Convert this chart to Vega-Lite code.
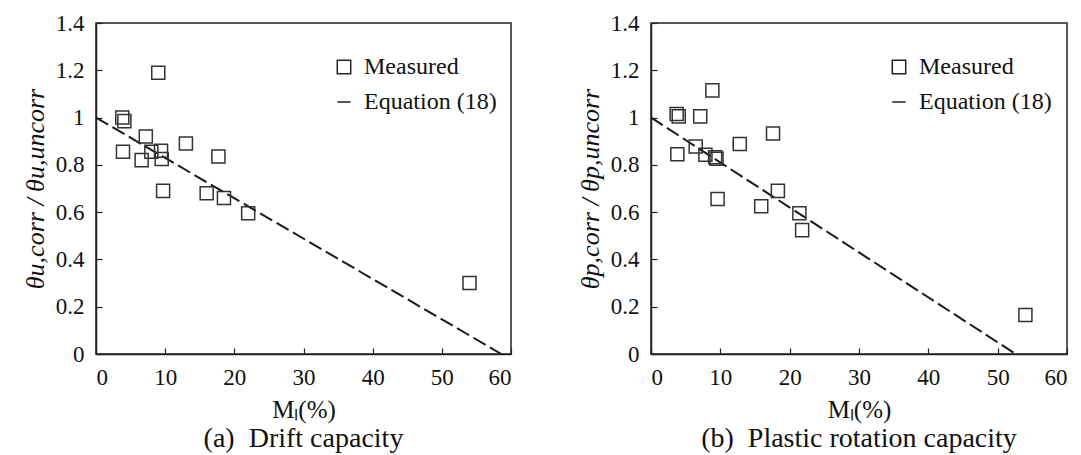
{
  "$schema": "https://vega.github.io/schema/vega-lite/v6.json",
  "background": "white",
  "padding": {"left": 21, "top": 11, "right": 5, "bottom": 0},
  "spacing": 63,
  "datasets": {
    "pointsA": [
      {"ml": 9.0, "ratio": 1.19, "series": "Measured"},
      {"ml": 3.8, "ratio": 1.0, "series": "Measured"},
      {"ml": 4.1, "ratio": 0.985, "series": "Measured"},
      {"ml": 7.2, "ratio": 0.92, "series": "Measured"},
      {"ml": 13.0, "ratio": 0.89, "series": "Measured"},
      {"ml": 3.9, "ratio": 0.855, "series": "Measured"},
      {"ml": 8.0, "ratio": 0.855, "series": "Measured"},
      {"ml": 9.4, "ratio": 0.86, "series": "Measured"},
      {"ml": 6.6, "ratio": 0.82, "series": "Measured"},
      {"ml": 9.5, "ratio": 0.825, "series": "Measured"},
      {"ml": 17.7, "ratio": 0.835, "series": "Measured"},
      {"ml": 9.7, "ratio": 0.69, "series": "Measured"},
      {"ml": 16.0, "ratio": 0.68, "series": "Measured"},
      {"ml": 18.5, "ratio": 0.66, "series": "Measured"},
      {"ml": 22.0, "ratio": 0.595, "series": "Measured"},
      {"ml": 54.0, "ratio": 0.3, "series": "Measured"}
    ],
    "lineA": [
      {"ml": 0, "ratio": 1.0, "series": "Equation (18)"},
      {"ml": 58.6, "ratio": 0.0, "series": "Equation (18)"}
    ],
    "pointsB": [
      {"ml": 8.85, "ratio": 1.115, "series": "Measured"},
      {"ml": 3.7, "ratio": 1.015, "series": "Measured"},
      {"ml": 4.0, "ratio": 1.005, "series": "Measured"},
      {"ml": 7.1, "ratio": 1.005, "series": "Measured"},
      {"ml": 17.6, "ratio": 0.933, "series": "Measured"},
      {"ml": 12.8, "ratio": 0.888, "series": "Measured"},
      {"ml": 6.45, "ratio": 0.878, "series": "Measured"},
      {"ml": 3.8, "ratio": 0.845, "series": "Measured"},
      {"ml": 7.85, "ratio": 0.843, "series": "Measured"},
      {"ml": 9.25, "ratio": 0.832, "series": "Measured"},
      {"ml": 9.45, "ratio": 0.826, "series": "Measured"},
      {"ml": 18.3, "ratio": 0.69, "series": "Measured"},
      {"ml": 9.6, "ratio": 0.656, "series": "Measured"},
      {"ml": 15.9, "ratio": 0.625, "series": "Measured"},
      {"ml": 21.4, "ratio": 0.595, "series": "Measured"},
      {"ml": 21.8, "ratio": 0.524, "series": "Measured"},
      {"ml": 54.0, "ratio": 0.165, "series": "Measured"}
    ],
    "lineB": [
      {"ml": 0, "ratio": 1.0, "series": "Equation (18)"},
      {"ml": 52.6, "ratio": 0.0, "series": "Equation (18)"}
    ]
  },
  "hconcat": [
    {
      "width": 415,
      "height": 331,
      "title": "(a)\u00a0\u00a0Drift capacity",
      "layer": [
        {
          "data": {"name": "lineA"},
          "mark": {"type": "line", "color": "#1a1a1a", "strokeWidth": 2, "clip": true},
          "encoding": {
            "x": {"field": "ml", "type": "quantitative", "scale": {"domain": [0, 60]}, "axis": {"values": [0, 10, 20, 30, 40, 50, 60], "title": "Mₗ(%)"}},
            "y": {"field": "ratio", "type": "quantitative", "scale": {"domain": [0, 1.4]}, "axis": {"values": [0, 0.2, 0.4, 0.6, 0.8, 1, 1.2, 1.4], "format": "~g", "title": "θu,corr / θu,uncorr", "titleFontStyle": "italic", "titleFontSize": 26}},
            "strokeDash": {"field": "series", "type": "nominal", "scale": {"domain": ["Measured", "Equation (18)"], "range": [[1, 0], [14, 5]]}, "legend": {"orient": "none", "legendX": 236, "legendY": 32, "title": null}}
          }
        },
        {
          "data": {"name": "pointsA"},
          "mark": {"type": "point", "filled": false, "color": "#333333", "strokeWidth": 1.5, "size": 170, "opacity": 1},
          "encoding": {
            "x": {"field": "ml", "type": "quantitative"},
            "y": {"field": "ratio", "type": "quantitative"},
            "shape": {"field": "series", "type": "nominal", "scale": {"domain": ["Measured", "Equation (18)"], "range": ["square", "stroke"]}, "legend": {"orient": "none", "legendX": 236, "legendY": 32, "title": null}}
          }
        }
      ]
    },
    {
      "width": 416,
      "height": 331,
      "title": "(b)\u00a0\u00a0Plastic rotation capacity",
      "layer": [
        {
          "data": {"name": "lineB"},
          "mark": {"type": "line", "color": "#1a1a1a", "strokeWidth": 2, "clip": true},
          "encoding": {
            "x": {"field": "ml", "type": "quantitative", "scale": {"domain": [0, 60]}, "axis": {"values": [0, 10, 20, 30, 40, 50, 60], "title": "Mₗ(%)"}},
            "y": {"field": "ratio", "type": "quantitative", "scale": {"domain": [0, 1.4]}, "axis": {"values": [0, 0.2, 0.4, 0.6, 0.8, 1, 1.2, 1.4], "format": "~g", "title": "θp,corr / θp,uncorr", "titleFontStyle": "italic", "titleFontSize": 26}},
            "strokeDash": {"field": "series", "type": "nominal", "scale": {"domain": ["Measured", "Equation (18)"], "range": [[1, 0], [14, 5]]}, "legend": {"orient": "none", "legendX": 236, "legendY": 32, "title": null}}
          }
        },
        {
          "data": {"name": "pointsB"},
          "mark": {"type": "point", "filled": false, "color": "#333333", "strokeWidth": 1.5, "size": 170, "opacity": 1},
          "encoding": {
            "x": {"field": "ml", "type": "quantitative"},
            "y": {"field": "ratio", "type": "quantitative"},
            "shape": {"field": "series", "type": "nominal", "scale": {"domain": ["Measured", "Equation (18)"], "range": ["square", "stroke"]}, "legend": {"orient": "none", "legendX": 236, "legendY": 32, "title": null}}
          }
        }
      ]
    }
  ],
  "resolve": {"scale": {"x": "independent", "y": "independent", "shape": "independent", "strokeDash": "independent"}, "legend": {"shape": "independent", "strokeDash": "independent"}},
  "config": {
    "font": "Liberation Serif",
    "view": {"stroke": "#222222", "strokeWidth": 1.5},
    "axis": {
      "labelFont": "Liberation Serif",
      "labelFontSize": 23,
      "labelColor": "#111111",
      "titleFont": "Liberation Serif",
      "titleFontSize": 25,
      "titleFontWeight": "normal",
      "titleColor": "#111111",
      "grid": false,
      "domainColor": "#222222",
      "domainWidth": 1.5,
      "tickColor": "#222222",
      "tickWidth": 1.2,
      "tickSize": -6,
      "labelPadding": 18
    },
    "axisX": {"titlePadding": 8},
    "axisY": {"titlePadding": 7},
    "legend": {
      "labelFont": "Liberation Serif",
      "labelFontSize": 24,
      "labelColor": "#111111",
      "symbolSize": 180,
      "symbolStrokeColor": "#222222",
      "symbolStrokeWidth": 1.5,
      "rowPadding": 11,
      "labelOffset": 8
    },
    "title": {"font": "Liberation Serif", "fontSize": 28, "fontWeight": "normal", "color": "#111111", "orient": "bottom", "anchor": "middle", "offset": 3}
  }
}
